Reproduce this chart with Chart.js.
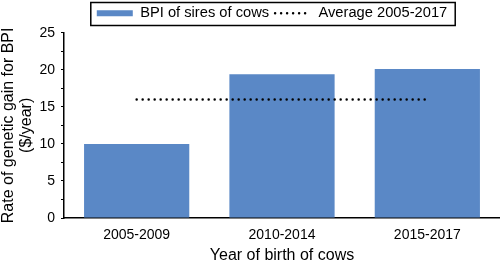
<!DOCTYPE html>
<html lang="en">
<head>
    <meta charset="UTF-8">
    <title>Genetic gain for BPI</title>
    <script src="https://cdn.jsdelivr.net/npm/chart.js"></script>
    <style>
        html, body { margin: 0; padding: 0; background: #fff; }
        #wrap { width: 500px; height: 262px; }
    </style>
</head>
<body>
    <div id="wrap"><canvas id="gainChart" width="500" height="262"></canvas></div>

    <script type="text/javascript">
        // data
        var categories = ['2005-2009', '2010-2014', '2015-2017'];
        var bpiValues = [10.0, 19.4, 20.1];
        var averageValues = [16, 16, 16];
        var seriesNames = ['BPI of sires of cows', 'Average 2005-2017'];
        var yTitle = ['Rate of genetic gain for BPI', '($/year)'];
        var xTitle = 'Year of birth of cows';

        var fontFamily = '"Liberation Sans", Arial, Helvetica, sans-serif';

        // legend: a bit taller than the default, nudged right, with a black frame
        var legendFrame = {
            id: 'legendFrame',
            beforeLayout: function(chart) {
                var lg = chart.legend;
                if (lg && !lg._tallPatch) {
                    var origFit = lg.fit;
                    lg.fit = function() {
                        origFit.call(this);
                        this.height += 2;
                    };
                    lg._tallPatch = true;
                }
            },
            afterLayout: function(chart) {
                chart.legend.left += 22;
                chart.legend.right += 22;
            },
            afterDraw: function(chart) {
                var boxes = chart.legend.legendHitBoxes;
                if (!boxes || !boxes.length) return;
                var first = boxes[0], last = boxes[boxes.length - 1];
                var ctx = chart.ctx;
                ctx.save();
                ctx.strokeStyle = '#000';
                ctx.lineWidth = 1.5;
                ctx.strokeRect(first.left - 6, 2.5, (last.left + last.width) - first.left + 14, 23);
                ctx.restore();
            }
        };

        var ctx = document.getElementById('gainChart').getContext('2d');
        var gainChart = new Chart(ctx, {
            type: 'bar',
            data: {
                labels: categories,
                datasets: [{
                    type: 'line',
                    label: seriesNames[1],
                    data: averageValues,
                    borderColor: '#000',
                    backgroundColor: '#000',
                    borderWidth: 2.5,
                    borderDash: [0, 6],
                    borderCapStyle: 'round',
                    pointRadius: 0,
                    pointStyle: 'line',
                    fill: false,
                    order: 0
                }, {
                    label: seriesNames[0],
                    data: bpiValues,
                    backgroundColor: '#5a88c6',
                    borderWidth: 0,
                    pointStyle: 'rect',
                    categoryPercentage: 1.0,
                    barPercentage: 0.724,
                    order: 1
                }]
            },
            options: {
                responsive: false,
                animation: false,
                layout: { padding: 0 },
                plugins: {
                    legend: {
                        display: true,
                        position: 'top',
                        reverse: true,
                        labels: {
                            usePointStyle: true,
                            pointStyleWidth: 36,
                            boxHeight: 6,
                            padding: 6,
                            color: '#000',
                            font: { family: fontFamily, size: 14.7 },
                            generateLabels: function(chart) {
                                var items = Chart.defaults.plugins.legend.labels.generateLabels(chart);
                                items.forEach(function(item) {
                                    if (item.pointStyle === 'line') {
                                        // point style has no dash, so give the sample the line's dots
                                        item.lineDash = [0, 6];
                                        item.lineCap = 'round';
                                        item.lineWidth = 2.5;
                                        item.strokeStyle = '#000';
                                    } else {
                                        item.lineWidth = 0;
                                    }
                                });
                                return items;
                            }
                        }
                    },
                    tooltip: { enabled: false }
                },
                scales: {
                    x: {
                        offset: true,
                        grid: { display: false, drawTicks: false },
                        border: { display: true, color: '#000', width: 1.5 },
                        ticks: {
                            color: '#000',
                            padding: 9,
                            font: { family: fontFamily, size: 14 }
                        },
                        title: {
                            display: true,
                            text: xTitle,
                            color: '#000',
                            font: { family: fontFamily, size: 16, lineHeight: 1 },
                            padding: { top: 0, bottom: -2 }
                        },
                        afterFit: function(scale) { scale.height = 44; }
                    },
                    y: {
                        min: 0,
                        max: 25,
                        grid: {
                            drawOnChartArea: false,
                            drawTicks: true,
                            tickLength: 3,
                            tickColor: '#000'
                        },
                        border: { display: true, color: '#000', width: 1.5 },
                        ticks: {
                            stepSize: 2.5,
                            autoSkip: false,
                            color: '#000',
                            padding: 6,
                            font: { family: fontFamily, size: 14 },
                            callback: function(v) { return v % 5 === 0 ? v : ''; }
                        },
                        title: {
                            display: true,
                            text: yTitle,
                            color: '#000',
                            font: { family: fontFamily, size: 16, lineHeight: 1.125 },
                            padding: { top: 0, bottom: 0 }
                        },
                        afterFit: function(scale) { scale.width = 64; }
                    }
                }
            },
            plugins: [legendFrame]
        });
    </script>
</body>
</html>
